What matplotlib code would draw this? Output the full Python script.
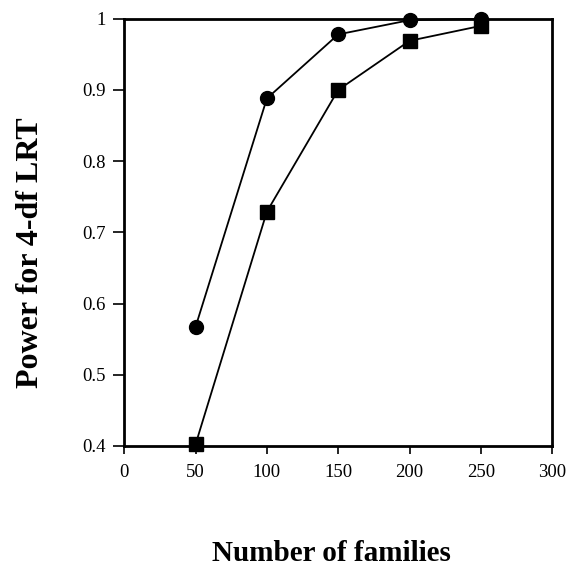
import matplotlib
matplotlib.use("Agg")
import matplotlib.pyplot as plt

families = [50, 100, 150, 200, 250]
power_circle = [0.567, 0.888, 0.978, 0.998, 1.0]
power_square = [0.402, 0.729, 0.900, 0.969, 0.990]

x_ticks = [0, 50, 100, 150, 200, 250, 300]
y_ticks = [0.4, 0.5, 0.6, 0.7, 0.8, 0.9, 1.0]
y_ticklabels = ["0.4", "0.5", "0.6", "0.7", "0.8", "0.9", "1"]

plt.rcParams["font.family"] = ["Liberation Serif", "DejaVu Serif"]

fig = plt.figure(figsize=(5.67, 5.68), dpi=100)
ax = fig.add_axes([0.219, 0.215, 0.755, 0.752])

ax.plot(families, power_circle, color="black", lw=1.3, marker="o", ms=10,
        clip_on=False, zorder=3)
ax.plot(families, power_square, color="black", lw=1.3, marker="s", ms=10,
        clip_on=False, zorder=3)

ax.set_xlim(0, 300)
ax.set_ylim(0.4, 1.0)
ax.set_xticks(x_ticks)
ax.set_yticks(y_ticks)
ax.set_yticklabels(y_ticklabels)
ax.tick_params(direction="out", width=1.2, labelsize=13.5)
ax.tick_params(axis="x", length=6, pad=7)
ax.tick_params(axis="y", length=8, pad=5)
for s in ax.spines.values():
    s.set_linewidth(2)

fig.text(0.584, 0.025, "Number of families", ha="center", va="center",
         fontsize=21, fontweight="bold")
fig.text(0.053, 0.556, "Power for 4-df LRT", ha="center", va="center",
         rotation=90, fontsize=23, fontweight="bold")

fig.savefig("out.png", dpi=100)
